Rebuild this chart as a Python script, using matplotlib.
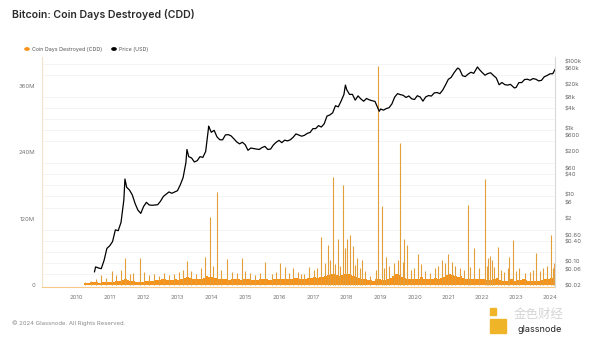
import numpy as np
import matplotlib
matplotlib.use("Agg")
import matplotlib.pyplot as plt
from matplotlib.patches import Rectangle

plt.rcParams['font.family'] = ['Inter', 'DejaVu Sans']

# ---------------- data ----------------
years = list(range(2010, 2025))
year_labels = [str(y) for y in years]

# monthly baseline level of dense CDD band (millions), Jan 2009 .. Feb 2024
cdd_base_2009 = [0.5] * 12
cdd_base_2010 = [0.5, 0.5, 0.5, 3, 4, 5, 6, 5, 4, 5, 6, 5]
cdd_base_2011 = [6, 6, 7, 8, 9, 10, 9, 8, 7, 6, 6, 6]
cdd_base_2012 = [7, 7, 8, 8, 9, 9, 10, 10, 9, 9, 9, 10]
cdd_base_2013 = [9, 10, 12, 14, 12, 11, 11, 10, 11, 12, 16, 15]
cdd_base_2014 = [14, 12, 11, 10, 10, 10, 9, 10, 10, 10, 9, 10]
cdd_base_2015 = [10, 10, 9, 9, 9, 10, 10, 10, 9, 9, 10, 10]
cdd_base_2016 = [11, 10, 10, 10, 11, 13, 12, 11, 10, 11, 12, 13]
cdd_base_2017 = [14, 13, 14, 15, 17, 18, 19, 20, 18, 17, 18, 20]
cdd_base_2018 = [20, 18, 16, 14, 12, 11, 10, 9, 9, 8, 10, 10]
cdd_base_2019 = [9, 9, 10, 12, 16, 20, 18, 15, 12, 11, 10, 10]
cdd_base_2020 = [11, 11, 14, 11, 10, 10, 11, 12, 11, 12, 15, 18]
cdd_base_2021 = [20, 18, 16, 14, 16, 12, 11, 11, 10, 10, 10, 10]
cdd_base_2022 = [10, 9, 9, 9, 10, 12, 9, 8, 8, 8, 10, 8]
cdd_base_2023 = [9, 9, 10, 9, 8, 7, 7, 7, 8, 9, 10, 11]
cdd_base_2024 = [12, 13]

# CDD spikes (decimal year, millions)
cdd_spike_dates = [
    2010.27, 2010.45, 2010.60, 2010.74, 2010.90, 2011.06, 2011.20, 2011.33, 2011.45,
    2011.60, 2011.70, 2011.88, 2012.00, 2012.15, 2012.30, 2012.45, 2012.60, 2012.75,
    2012.90, 2013.05, 2013.15, 2013.27, 2013.40, 2013.55, 2013.70, 2013.81, 2013.96,
    2014.05, 2014.18, 2014.30, 2014.45, 2014.60, 2014.75, 2014.91, 2015.00, 2015.14,
    2015.30, 2015.45, 2015.60, 2015.80, 2015.90, 2016.03, 2016.17, 2016.30, 2016.42,
    2016.55, 2016.64, 2016.75, 2016.89, 2017.03, 2017.13, 2017.23, 2017.35, 2017.44,
    2017.50, 2017.58, 2017.65, 2017.73, 2017.80, 2017.88, 2017.94, 2018.02, 2018.09,
    2018.17, 2018.25, 2018.31, 2018.40, 2018.45, 2018.55, 2018.68, 2018.85, 2018.93,
    2019.04, 2019.10, 2019.17, 2019.25, 2019.40, 2019.50, 2019.58, 2019.65, 2019.69,
    2019.78, 2019.90, 2020.00, 2020.10, 2020.20, 2020.30, 2020.45, 2020.60, 2020.70,
    2020.82, 2020.90, 2021.00, 2021.10, 2021.20, 2021.35, 2021.45, 2021.57, 2021.65,
    2021.75, 2021.90, 2022.09, 2022.15, 2022.18, 2022.24, 2022.30, 2022.35, 2022.46,
    2022.55, 2022.65, 2022.75, 2022.80, 2022.90, 2023.00, 2023.10, 2023.25, 2023.40,
    2023.50, 2023.58, 2023.70, 2023.80, 2023.90, 2024.04, 2024.10, 2024.12,
]
cdd_spike_values = [
    6, 8, 10, 18, 12, 26, 18, 28, 48,
    20, 22, 48, 24, 18, 20, 16, 22, 18,
    20, 24, 28, 44, 26, 20, 30, 51, 122,
    35, 168, 28, 47, 24, 22, 49, 26, 22,
    18, 22, 41, 20, 24, 39, 32, 22, 30,
    24, 19, 20, 32, 27, 30, 87, 40, 72,
    45, 196, 38, 84, 35, 181, 67, 84, 90,
    70, 36, 48, 30, 45, 25, 16, 28, 395,
    143, 30, 51, 35, 40, 45, 257, 42, 84,
    72, 28, 30, 56, 38, 25, 22, 30, 35,
    46, 40, 56, 42, 35, 30, 28, 144, 32,
    66, 30, 191, 35, 48, 52, 46, 32, 68,
    28, 24, 30, 51, 81, 26, 30, 22, 24,
    28, 57, 26, 30, 34, 90, 30, 40,
]

# BTC price, month-end closes from Jul 2010 (USD)
price_usd = [
    0.07, 0.065, 0.062, 0.11, 0.25, 0.30,
    0.40, 0.90, 0.85, 1.5, 7.0, 17.0, 14.0, 10.0, 5.5, 3.5, 2.8, 4.5,
    6.0, 5.0, 4.9, 5.0, 5.1, 6.5, 9.0, 10.5, 12.3, 11.2, 12.2, 13.4,
    20, 33, 93, 140, 128, 97, 106, 140, 133, 200, 1000, 750,
    860, 550, 450, 447, 627, 640, 587, 480, 387, 338, 378, 320,
    217, 254, 244, 236, 230, 263, 284, 230, 236, 314, 378, 430,
    368, 437, 416, 448, 531, 673, 624, 574, 609, 698, 742, 964,
    970, 1190, 1080, 1348, 2300, 2480, 2875, 4700, 4340, 6470, 10200, 14150,
    10200, 10300, 6900, 9240, 7490, 6390, 7730, 7030, 6630, 6320, 4040, 3740,
    3460, 3850, 4100, 5320, 8570, 10800, 10080, 9630, 8290, 9200, 7570, 7190,
    9350, 8600, 6440, 8660, 9460, 9140, 11350, 11650, 10780, 13800, 19700, 29000,
    33100, 45200, 58800, 57700, 37300, 35000, 41500, 47100, 43800, 61300, 57000, 46300,
    38500, 43200, 45500, 37700, 31800, 19900, 23300, 20100, 19400, 20500, 17200, 16500,
    23100, 23150, 28500, 29200, 27200, 30500, 29200, 26000, 27000, 34500, 37700, 42300,
    42600, 61000,
]
price_start = 0.05
price_peak_dates = [2011.45, 2013.28, 2013.92, 2017.96, 2021.28, 2021.86, 2022.95, 2018.96]
price_peak_usd = [30, 230, 1150, 19500, 63000, 68000, 16000, 3200]

price_ticks = [0.02, 0.06, 0.10, 0.40, 0.60, 2, 6, 10, 40, 60, 200, 600,
               1000, 4000, 8000, 20000, 60000, 100000]
price_tick_labels = ['$0.02', '$0.06', '$0.10', '$0.40', '$0.60', '$2', '$6', '$10',
                     '$40', '$60', '$200', '$600', '$1k', '$4k', '$8k', '$20k',
                     '$60k', '$100k']
cdd_ticks = [0, 120, 240, 360]
cdd_tick_labels = ['0', '120M', '240M', '360M']

# ---------------- assemble ----------------
cdd_base = (cdd_base_2009 + cdd_base_2010 + cdd_base_2011 + cdd_base_2012 + cdd_base_2013
            + cdd_base_2014 + cdd_base_2015 + cdd_base_2016 + cdd_base_2017 + cdd_base_2018
            + cdd_base_2019 + cdd_base_2020 + cdd_base_2021 + cdd_base_2022 + cdd_base_2023
            + cdd_base_2024)
cdd_base_t = 2009 + np.arange(len(cdd_base)) / 12.0
cdd_base_t = np.append(cdd_base_t, cdd_base_t[-1] + 1 / 12.0)
cdd_base_v = np.append(cdd_base, cdd_base[-1])

p_t = [2010.55] + list(2010.5 + (np.arange(len(price_usd)) + 1) / 12.0)
p_v = [price_start] + price_usd
p_t = list(p_t) + price_peak_dates
p_v = p_v + price_peak_usd
order = np.argsort(p_t)
p_t = np.array(p_t)[order]
p_v = np.array(p_v)[order]

# ---------------- figure ----------------
W, H = 600, 338
fig = plt.figure(figsize=(W / 100, H / 100), dpi=100)
fig.patch.set_facecolor('white')

left, right, top, bottom = 42, 555, 57, 287
ax = fig.add_axes([left / W, 1 - bottom / H, (right - left) / W, (bottom - top) / H])
ax.set_facecolor('white')

orange = '#F7931A'
ax.fill_between(cdd_base_t, 0, cdd_base_v, step='post', color=orange, lw=0)
ax.vlines(cdd_spike_dates, 0, cdd_spike_values, color='#E39E3A', lw=0.8)

ax.set_xlim(2009.0, 2024.15)
ax.set_ylim(-3.6, 412)
ax.set_yticks(np.arange(0, 420, 20), minor=True)
ax.grid(axis='y', which='minor', color='#f2f2f2', lw=0.6)
ax.set_axisbelow(True)
ax.set_yticks(cdd_ticks)
ax.set_yticklabels(cdd_tick_labels)
ax.set_xticks(years)
ax.set_xticklabels(year_labels)
ax.tick_params(axis='both', which='both', length=0, labelsize=4.3, colors='#777777')
ax.tick_params(axis='y', pad=5)
ax.tick_params(axis='x', pad=6)
for s in ['top', 'right']:
    ax.spines[s].set_visible(False)
ax.spines['left'].set_color('#f1e3c8')
ax.spines['left'].set_linewidth(0.8)
ax.spines['bottom'].set_color('#f6c98a')
ax.spines['bottom'].set_linewidth(0.8)

ax2 = ax.twinx()
ax2.set_yscale('log')
ax2.plot(p_t, p_v, color='black', lw=0.9)
ax2.set_ylim(0.0175, 135000)
ax2.set_yticks(price_ticks)
ax2.set_yticklabels(price_tick_labels)
ax2.yaxis.set_minor_locator(matplotlib.ticker.NullLocator())
ax2.tick_params(axis='y', length=0, labelsize=4.3, colors='#666666', pad=7)
for s in ['top', 'left', 'bottom']:
    ax2.spines[s].set_visible(False)
ax2.spines['right'].set_color('#d9d9d9')
ax2.spines['right'].set_linewidth(0.8)
ax2.set_xlim(2009.0, 2024.15)

# title
fig.text(12 / W, 1 - 15 / H, 'Bitcoin: Coin Days Destroyed (CDD)', fontsize=7.6,
         fontweight='semibold', color='#2b2b2b', va='center', ha='left')

# legend
fig.patches.append(plt.Circle((27 / W, 1 - 49 / H), 0.0035, transform=fig.transFigure,
                              color=orange, figure=fig))
fig.text(32 / W, 1 - 49 / H, 'Coin Days Destroyed (CDD)', fontsize=3.8, color='#555555',
         va='center', ha='left')
fig.patches.append(plt.Circle((114 / W, 1 - 49 / H), 0.0035, transform=fig.transFigure,
                              color='black', figure=fig))
fig.text(119 / W, 1 - 49 / H, 'Price (USD)', fontsize=3.8, color='#555555',
         va='center', ha='left')

# footer
fig.text(12 / W, 1 - 323 / H, '\u00a9 2024 Glassnode. All Rights Reserved.', fontsize=4.3,
         color='#8a8a8a', va='center', ha='left')

# watermark
fig.patches.append(Rectangle((490 / W, 1 - 333 / H), 16 / W, 14 / H, transform=fig.transFigure,
                             color='#F0B429', figure=fig))
fig.patches.append(Rectangle((490 / W, 1 - 315 / H), 6 / W, 7 / H, transform=fig.transFigure,
                             color='#F0B429', figure=fig))
fig.text(514 / W, 1 - 314 / H, '金色财经', fontsize=9, color='#d5d5d5', va='center',
         ha='left', family=['Noto Sans CJK SC', 'DejaVu Sans'])
fig.text(518 / W, 1 - 330 / H, 'glassnode', fontsize=6.5, color='#222222', va='center',
         ha='left')

fig.savefig('out.png', dpi=100, facecolor='white')
